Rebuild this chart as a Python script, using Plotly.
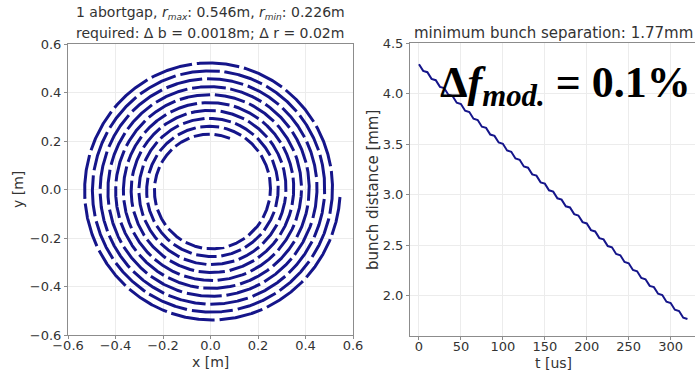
import numpy as np
import plotly.graph_objects as go

# ---- orbit spiral parameters ----
r_min = 0.226          # m, innermost radius
r_max = 0.546          # m, outermost radius
n_turns = 9.8          # revolutions between r_min and r_max
dash_period = 0.383    # rad, one bunch train + gap
gap_length = 0.019     # m, arc length of the gap between trains
start_angle = 1.2      # rad

# ---- bunch distance vs time ----
t_us = [0, 5, 10, 15, 20, 25, 30, 35, 40, 45, 50, 55, 60, 65, 70, 75, 80, 85,
        90, 95, 100, 105, 110, 115, 120, 125, 130, 135, 140, 145, 150, 155,
        160, 165, 170, 175, 180, 185, 190, 195, 200, 205, 210, 215, 220, 225,
        230, 235, 240, 245, 250, 255, 260, 265, 270, 275, 280, 285, 290, 295,
        300, 305, 310, 315, 320]
bunch_mm = [4.290, 4.224, 4.211, 4.145, 4.132, 4.066, 4.054, 3.988, 3.975,
            3.909, 3.896, 3.830, 3.817, 3.751, 3.738, 3.672, 3.660, 3.594,
            3.581, 3.515, 3.502, 3.436, 3.423, 3.357, 3.344, 3.278, 3.266,
            3.200, 3.187, 3.121, 3.108, 3.042, 3.029, 2.963, 2.950, 2.884,
            2.872, 2.806, 2.793, 2.727, 2.714, 2.648, 2.635, 2.569, 2.556,
            2.490, 2.478, 2.412, 2.399, 2.333, 2.320, 2.254, 2.241, 2.175,
            2.162, 2.096, 2.084, 2.018, 2.005, 1.939, 1.926, 1.860, 1.847,
            1.781, 1.768]

x_ticks = [-0.6, -0.4, -0.2, 0.0, 0.2, 0.4, 0.6]
t_ticks = [0, 50, 100, 150, 200, 250, 300]
d_ticks = [2.0, 2.5, 3.0, 3.5, 4.0, 4.5]

W, H = 695, 373
LINE = "#15158a"
TXT = "#333333"
FONT = "DejaVu Sans"

# build the dashed spiral (segments separated by None)
theta = np.arange(0, 2 * np.pi * n_turns, 0.003)
radius = r_min + (r_max - r_min) * theta / theta[-1]
on = (theta % dash_period) < (dash_period - gap_length / radius)
sx, sy = [], []
prev = False
for th, r, o in zip(theta, radius, on):
    if o:
        sx.append(r * np.cos(th + start_angle))
        sy.append(r * np.sin(th + start_angle))
    elif prev:
        sx.append(None)
        sy.append(None)
    prev = o

fig = go.Figure()
fig.add_trace(go.Scatter(x=sx, y=sy, mode="lines",
                         line=dict(color=LINE, width=3),
                         xaxis="x", yaxis="y", showlegend=False,
                         hoverinfo="skip"))
fig.add_trace(go.Scatter(x=t_us, y=bunch_mm, mode="lines",
                         line=dict(color=LINE, width=2),
                         xaxis="x2", yaxis="y2", showlegend=False))

def px(v):
    return v / W

def py(v):
    return (H - v) / H

axis_style = dict(showline=True, linecolor="#8c8c8c", linewidth=1,
                  mirror=True, showgrid=True, gridcolor="#ececec",
                  gridwidth=1, zeroline=False, ticks="outside",
                  ticklen=3, tickcolor="#8c8c8c", automargin=False,
                  tickfont=dict(family=FONT, size=13, color=TXT))

fig.update_layout(
    width=W, height=H,
    margin=dict(l=0, r=0, t=0, b=0, autoexpand=False),
    paper_bgcolor="white", plot_bgcolor="white",
    xaxis=dict(domain=[px(68), px(353)], range=[-0.6, 0.6],
               tickvals=x_ticks, tickformat=".1f", anchor="y",
               ticklabelstandoff=-5, **axis_style),
    yaxis=dict(domain=[py(335), py(44)], range=[-0.6, 0.6],
               tickvals=x_ticks, tickformat=".1f", anchor="x", **axis_style),
    xaxis2=dict(domain=[px(410), 1.0], range=[-10.7, 329],
                tickvals=t_ticks, anchor="y2",
                ticklabelstandoff=-5, **axis_style),
    yaxis2=dict(domain=[py(336), py(43)], range=[1.6, 4.5],
                tickvals=d_ticks, tickformat=".1f", anchor="x2", **axis_style),
)

def label(text, x, y, size=14, angle=0):
    fig.add_annotation(text=text, x=px(x), y=py(y), xref="paper", yref="paper",
                       xanchor="center", yanchor="middle",
                       showarrow=False, textangle=angle,
                       font=dict(family=FONT, size=size, color=TXT))

SUB = '<sub><span style="font-size:9px"><i>{}</i></span></sub>'
label("1 abortgap, <i>r</i>" + SUB.format("max") + ": 0.546m, <i>r</i>"
      + SUB.format("min") + ": 0.226m", 210, 13)
label("required: Δ b = 0.0018m; Δ r = 0.02m", 210, 33)
label("minimum bunch separation: 1.77mm", 553, 33, size=15)
label("x [m]", 210, 362)
label("t [us]", 553, 363, size=14)
label("y [m]", 18, 190, angle=-90)
label("bunch distance [mm]", 373, 190, size=15, angle=-90)

fig.add_annotation(text="<b>Δ<i>f</i><sub><i>mod.</i></sub> = 0.1%</b>",
                   x=px(438), y=py(85), xref="paper", yref="paper",
                   xanchor="left", yanchor="middle", showarrow=False,
                   font=dict(family="Liberation Serif", size=44, color="black"))

fig.write_html("out.html")
